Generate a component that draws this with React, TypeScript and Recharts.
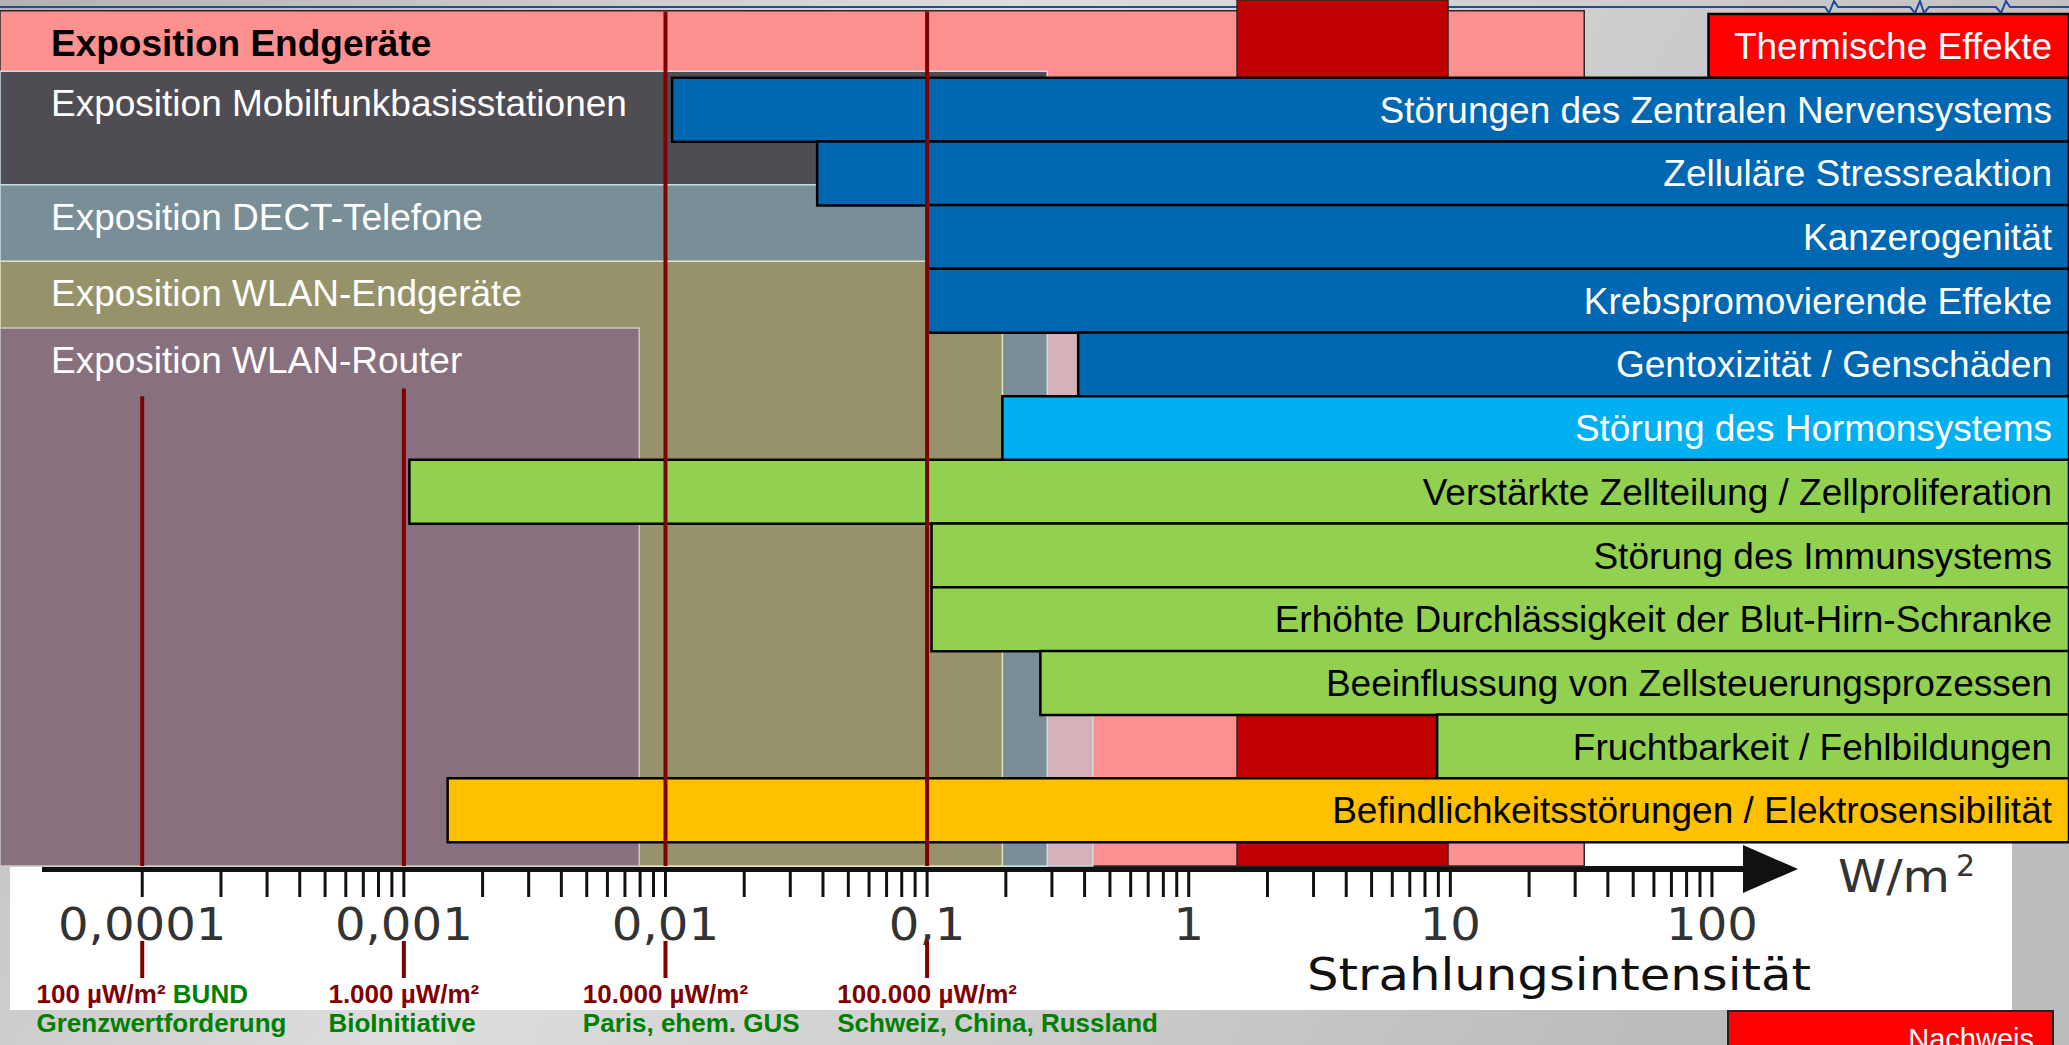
import React from 'react'
import {
  ComposedChart,
  Bar,
  Cell,
  LabelList,
  XAxis,
  YAxis,
  ReferenceArea,
  ReferenceLine,
} from 'recharts'

// log x-axis: W/m², left edge to right edge of the picture
const X_MIN = 2.86e-5
const X_MAX = 2316

// effects (rows, top to bottom) and the intensity from which they were found
const effectNames = [
  'Thermische Effekte',
  'Störungen des Zentralen Nervensystems',
  'Zelluläre Stressreaktion',
  'Kanzerogenität',
  'Krebspromovierende Effekte',
  'Gentoxizität / Genschäden',
  'Störung des Hormonsystems',
  'Verstärkte Zellteilung / Zellproliferation',
  'Störung des Immunsystems',
  'Erhöhte Durchlässigkeit der Blut-Hirn-Schranke',
  'Beeinflussung von Zellsteuerungsprozessen',
  'Fruchtbarkeit / Fehlbildungen',
  'Befindlichkeitsstörungen / Elektrosensibilität',
]
const effectStart = [97, 0.0106, 0.038, 0.1, 0.1, 0.378, 0.194, 0.00105, 0.104, 0.104, 0.271, 8.9, 0.00147]
const effectColors = [
  '#FF0000', '#0067B3', '#0067B3', '#0067B3', '#0067B3', '#0067B3',
  '#00B0F0', '#92D050', '#92D050', '#92D050', '#92D050', '#92D050', '#FFC000',
]
const labelColors = ['#fff', '#fff', '#fff', '#fff', '#fff', '#fff', '#fff', '#000', '#000', '#000', '#000', '#000', '#000']

// exposure bands behind the bars (row units: 0 = top of first row)
const bandNames = [
  'Exposition Endgeräte',
  '',
  '',
  'Exposition Mobilfunkbasisstationen',
  'Exposition DECT-Telefone',
  'Exposition WLAN-Endgeräte',
  'Exposition WLAN-Router',
]
const bandFrom = [X_MIN, 1.53, X_MIN, X_MIN, X_MIN, X_MIN, X_MIN]
const bandTo = [32.5, 9.8, 0.43, 0.288, 0.288, 0.194, 0.00794]
const bandTop = [-0.05, -0.22, 2.68, 0.9, 2.68, 3.88, 4.93]
const BAND_BOTTOM = 13.377
const bandColors = ['#FF9090', '#C00000', '#D5B1B9', '#4F4C53', '#7A8E97', '#96936A', '#88707F']
const bandStroke = ['#2a2a2a', '#2a2a2a', '#c9dce3', '#c9dce3', '#c9dce3', '#e4e2c4', '#c8c8c8']

// limit values
const limitValues = [0.0001, 0.001, 0.01, 0.1]
const limitLineTop = [6.0, 5.88, -0.04, -0.04]
const limitLabels = ['100 µW/m²', '1.000 µW/m²', '10.000 µW/m²', '100.000 µW/m²']
const limitSuffix = [' BUND', '', '', '']
const limitSources = ['Grenzwertforderung', 'BioInitiative', 'Paris, ehem. GUS', 'Schweiz, China, Russland']

// axis ticks
const majorTicks = [0.0001, 0.001, 0.01, 0.1, 1, 10, 100]
const tickLabels = ['0,0001', '0,001', '0,01', '0,1', '1', '10', '100']
const minorTicks = majorTicks.slice(0, -1).flatMap(d => [2, 3, 4, 5, 6, 7, 8, 9].map(m => m * d))

const W = 2069
const H = 1045
const MARGIN = { top: 14, right: 0, bottom: 77, left: 0 }
const X_AXIS_H = 100
const ROW_PAD = 26
const PLOT_H = H - MARGIN.top - MARGIN.bottom - X_AXIS_H
// helper axis 0..12 over the whole plot height (matches the row indices 0..12)
const POS_MAX = 12
const rowToPos = (r: number) => (r * POS_MAX * (PLOT_H - ROW_PAD)) / (13 * PLOT_H)

const rows = effectNames.map((name, i) => ({ name, slot: i, range: [effectStart[i], X_MAX] }))

const SANS = "'Liberation Sans', Arial, sans-serif"
const AXIS_FONT = "'DejaVu Sans', sans-serif"

let ctx: CanvasRenderingContext2D | null = null
function textWidth(t: string, font: string) {
  if (!ctx) ctx = document.createElement('canvas').getContext('2d')
  if (!ctx) return t.length * 14
  ctx.font = font
  return ctx.measureText(t).width
}

function AxisTick(props: any) {
  const { x, y, payload } = props
  const v = payload.value
  const mi = majorTicks.indexOf(v)
  const li = limitValues.indexOf(v)
  let left = x
  if (li >= 0) {
    left = x - textWidth(limitLabels[li] + limitSuffix[li], `bold 26px ${SANS}`) / 2
  }
  return (
    <g>
      <line x1={x} x2={x} y1={y + 4} y2={y + 29} stroke="#111" strokeWidth={3} />
      {mi >= 0 && (
        <text
          x={x}
          y={y + 72}
          textAnchor="middle"
          fontFamily={AXIS_FONT}
          fontSize={45}
          fill="#333"
          textLength={textWidth(tickLabels[mi], `45px ${AXIS_FONT}`) * 1.07}
          lengthAdjust="spacingAndGlyphs"
        >
          {tickLabels[mi]}
        </text>
      )}
      {li >= 0 && (
        <g>
          <line x1={x} x2={x} y1={y + 73} y2={y + 110} stroke="#800000" strokeWidth={4} />
          <text x={left} y={y + 135} fontFamily={SANS} fontWeight="bold" fontSize={26} fill="#800000">
            {limitLabels[li]}
            <tspan fill="#008000">{limitSuffix[li]}</tspan>
          </text>
          <text x={left} y={y + 164} fontFamily={SANS} fontWeight="bold" fontSize={26} fill="#008000">
            {limitSources[li]}
          </text>
        </g>
      )}
    </g>
  )
}

function EffectLabel(props: any) {
  const { x, y, width, height, value } = props
  const i = effectNames.indexOf(value)
  return (
    <text
      x={x + width - 17}
      y={y + height / 2 + 13}
      textAnchor="end"
      fontFamily={SANS}
      fontSize={37}
      fill={labelColors[i]}
    >
      {value}
    </text>
  )
}

function bandLabel(i: number) {
  if (!bandNames[i]) return undefined
  return (p: any) => {
    const vb = p.viewBox || {}
    return (
      <text
        x={vb.x + 51}
        y={vb.y + 45}
        fontFamily={SANS}
        fontSize={37}
        fontWeight={i === 0 ? 'bold' : 'normal'}
        fill={i === 0 ? '#000' : '#fff'}
      >
        {bandNames[i]}
      </text>
    )
  }
}

function Backdrop() {
  return (
    <svg width={W} height={H} style={{ position: 'absolute', left: 0, top: 0 }}>
      <defs>
        <linearGradient id="bg" x1="0" y1="0" x2="1" y2="0.3">
          <stop offset="0" stopColor="#b2b2b2" />
          <stop offset="0.45" stopColor="#dedede" />
          <stop offset="1" stopColor="#bcbcbc" />
        </linearGradient>
      </defs>
      <rect x={0} y={0} width={W} height={H} fill="url(#bg)" />
      <path
        d="M0 7 H1825 L1829 13 L1834 1 L1838 7 H1910 L1915 13 L1920 1 L1924 13 L1929 7 H1996 L2001 13 L2006 1 L2010 7 H2069"
        fill="none"
        stroke="#1f4c9c"
        strokeWidth={2}
      />
      <rect x={10} y={842} width={2002} height={168} fill="#fff" />
      {/* axis line and arrow */}
      <rect x={42} y={866} width={1705} height={6} fill="#111" />
      <path d="M1743 845 L1798 869 L1743 893 Z" fill="#111" />
      <text
        x={1838}
        y={892}
        fontFamily={AXIS_FONT}
        fontSize={44}
        fill="#333"
        textLength={112}
        lengthAdjust="spacingAndGlyphs"
      >
        W/m
      </text>
      <text x={1956} y={876} fontFamily={AXIS_FONT} fontSize={30} fill="#333">
        2
      </text>
      <text
        x={1307}
        y={990}
        fontFamily={AXIS_FONT}
        fontSize={45}
        fill="#111"
        textLength={504}
        lengthAdjust="spacingAndGlyphs"
      >
        Strahlungsintensität
      </text>
      <rect x={1728} y={1011} width={325} height={40} fill="#FF0000" stroke="#222" strokeWidth={2} />
      <text x={2034} y={1049} textAnchor="end" fontFamily={SANS} fontSize={29} fill="#fff">
        Nachweis
      </text>
    </svg>
  )
}

export default function App() {
  return (
    <div style={{ position: 'relative', width: W, height: H, overflow: 'hidden' }}>
      <style>{'body{margin:0}'}</style>
      <Backdrop />
      <div style={{ position: 'absolute', left: 0, top: 0 }}>
        <ComposedChart
          layout="vertical"
          width={W}
          height={H}
          data={rows}
          margin={MARGIN}
          barCategoryGap={0}
          barGap={0}
        >
          <XAxis
            type="number"
            scale="log"
            domain={[X_MIN, X_MAX]}
            allowDataOverflow
            ticks={[...majorTicks, ...minorTicks]}
            interval={0}
            tick={<AxisTick />}
            tickLine={false}
            axisLine={false}
            tickSize={0}
            tickMargin={0}
            height={X_AXIS_H}
          />
          <YAxis yAxisId="rows" type="category" dataKey="name" hide padding={{ top: 0, bottom: ROW_PAD }} />
          <YAxis
            yAxisId="pos"
            type="number"
            dataKey="slot"
            domain={[0, POS_MAX]}
            hide
            allowDataOverflow
          />

          {bandNames.map((_, i) => (
            <ReferenceArea
              key={'band' + i}
              yAxisId="pos"
              x1={bandFrom[i]}
              x2={bandTo[i]}
              y1={rowToPos(bandTop[i])}
              y2={rowToPos(BAND_BOTTOM)}
              fill={bandColors[i]}
              fillOpacity={1}
              stroke={bandStroke[i]}
              strokeWidth={1.5}
              ifOverflow="visible"
              label={bandLabel(i)}
            />
          ))}

          <Bar yAxisId="rows" dataKey="range" isAnimationActive={false} stroke="#000" strokeWidth={2.5}>
            {rows.map((r, i) => (
              <Cell key={r.name} fill={effectColors[i]} />
            ))}
            <LabelList dataKey="name" content={<EffectLabel />} />
          </Bar>

          {limitValues.map((v, i) => (
            <ReferenceLine
              key={'lim' + i}
              yAxisId="pos"
              segment={[
                { x: v, y: rowToPos(limitLineTop[i]) },
                { x: v, y: rowToPos(BAND_BOTTOM) },
              ]}
              stroke="#800000"
              strokeWidth={4}
              ifOverflow="visible"
            />
          ))}
        </ComposedChart>
      </div>
    </div>
  )
}
